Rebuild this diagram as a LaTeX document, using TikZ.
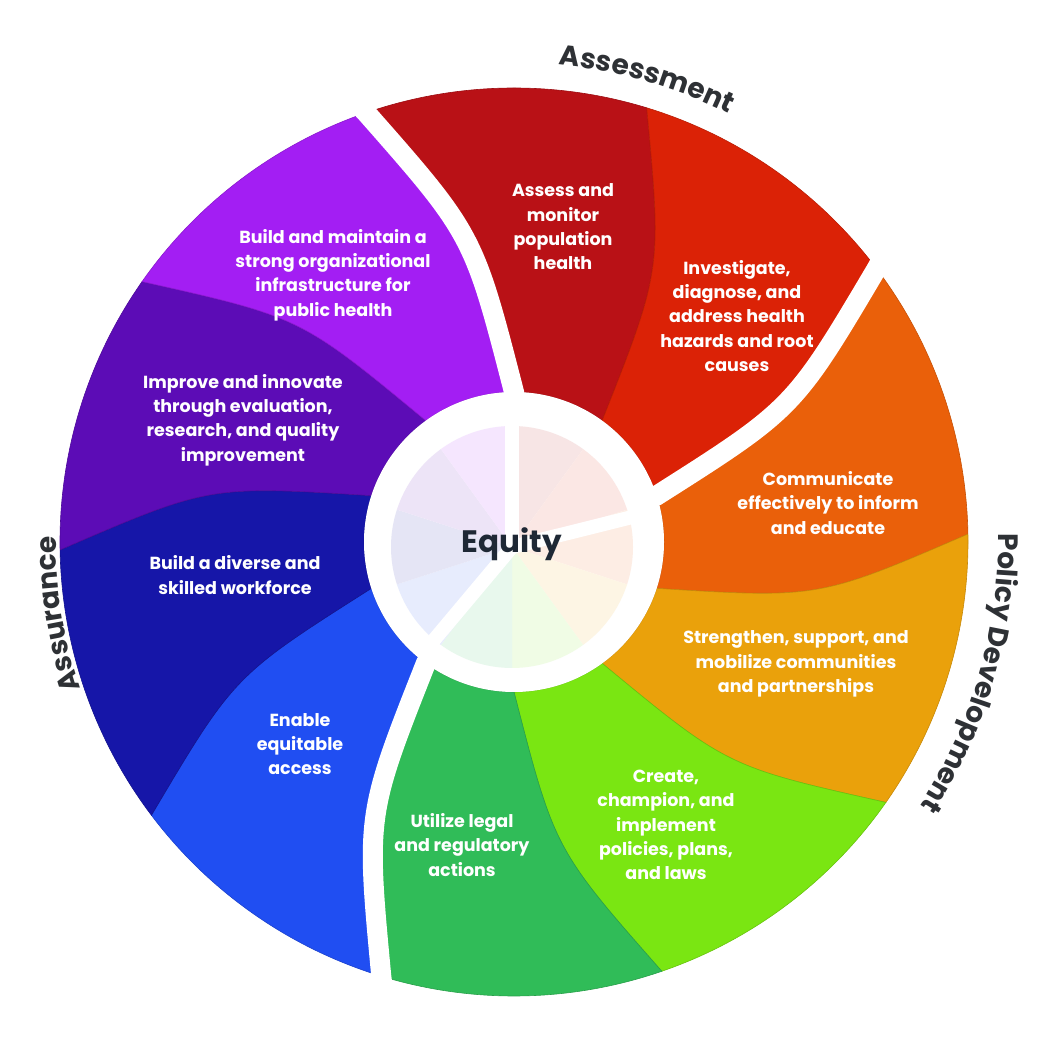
\documentclass[tikz,border=0pt]{standalone}
\usepackage{fontspec}
\setmainfont{Poppins}
\usetikzlibrary{decorations.text}
\definecolor{assessc}{RGB}{185,17,22}
\definecolor{investc}{RGB}{219,34,6}
\definecolor{commc}{RGB}{234,96,10}
\definecolor{strengthc}{RGB}{234,161,11}
\definecolor{createc}{RGB}{122,230,18}
\definecolor{legalc}{RGB}{48,188,88}
\definecolor{accessc}{RGB}{32,78,242}
\definecolor{workc}{RGB}{22,22,168}
\definecolor{improvec}{RGB}{92,12,182}
\definecolor{infrac}{RGB}{163,30,243}
\definecolor{labelc}{RGB}{46,49,53}
\definecolor{equityc}{RGB}{30,40,53}
\newcommand\ringfont{\fontsize{28}{28}\selectfont\bfseries}
\begin{document}
\begin{tikzpicture}[x=1pt,y=1pt,
    svc/.style={text=white,align=center,font=\fontsize{17.5}{24.3}\selectfont\bfseries},
    gapline/.style={white,line width=20pt},
    hubgap/.style={white,line width=14pt},
    ring label/.style={decorate,decoration={text along path,text align=center,text color=labelc,text={|\ringfont|#1}}}]
    \useasboundingbox (0,0) rectangle (1050,1050);
    \begin{scope}[shift={(514,508)}]
        \foreach \col [count=\k from 0] in {assessc,investc,commc,strengthc,createc,legalc,accessc,workc,improvec,infrac}{
            \pgfmathsetmacro\a{90-36*\k}
            \pgfmathsetmacro\b{\a-36}
            \fill[\col,draw=\col!85!black,line width=0.6pt] (\a:150pt) .. controls ({\a+7.5}:310pt) .. ({\a+19}:454pt)
                arc[start angle=\a+19,end angle=\b+19,radius=454pt]
                .. controls ({\b+7.5}:310pt) .. (\b:150pt)
                arc[start angle=\b,end angle=\a,radius=150pt] -- cycle;
        }
        \foreach \a in {90,18,-126}
            \draw[gapline] (\a:100pt) -- (\a:150pt) .. controls ({\a+7.5}:310pt) .. ({\a+19}:454pt) -- ({\a+21}:492pt);
        \fill[white] (0,0) circle[radius=150pt];
        \begin{scope}[shift={(-2,-5)}]
            \foreach \col [count=\k from 0] in {assessc,investc,commc,strengthc,createc,legalc,accessc,workc,improvec,infrac}{
                \pgfmathsetmacro\a{90-36*\k}
                \fill[\col!11] (0,0) -- (\a:121pt) arc[start angle=\a,end angle=\a-36,radius=121pt] -- cycle;
            }
            \foreach \a in {90,14,-130}
                \draw[hubgap] (0,0) -- (\a:125pt);
        \end{scope}
        \path[ring label=Assessment] (100:479pt) arc[start angle=100,end angle=48,radius=479pt];
        \path[ring label=Policy Development] (26:484pt) arc[start angle=26,end angle=-58,radius=484pt];
        \path[ring label=Assurance] (215:458pt) arc[start angle=215,end angle=163,radius=458pt];
    \end{scope}
    \node[svc] (assess) at (563,823) {Assess and\\monitor\\population\\health};
    \node[svc] (invest) at (737,734) {Investigate,\\diagnose, and\\address health\\hazards and root\\causes};
    \node[svc] (comm) at (828,547) {Communicate\\effectively to inform\\and educate};
    \node[svc] (strength) at (796,386) {Strengthen, support, and\\mobilize communities\\and partnerships};
    \node[svc] (create) at (666,225) {Create,\\champion, and\\implement\\policies, plans,\\and laws};
    \node[svc] (legal) at (462,205) {Utilize legal\\and regulatory\\actions};
    \node[svc] (access) at (300,306) {Enable\\equitable\\access};
    \node[svc] (work) at (235,475) {Build a diverse and\\skilled workforce};
    \node[svc] (improve) at (243,630) {Improve and innovate\\through evaluation,\\research, and quality\\improvement};
    \node[svc] (infra) at (333,775) {Build and maintain a\\strong organizational\\infrastructure for\\public health};
    \node[font=\fontsize{31}{31}\selectfont\bfseries,text=equityc] (equity) at (512,506) {Equity};
\end{tikzpicture}
\end{document}
